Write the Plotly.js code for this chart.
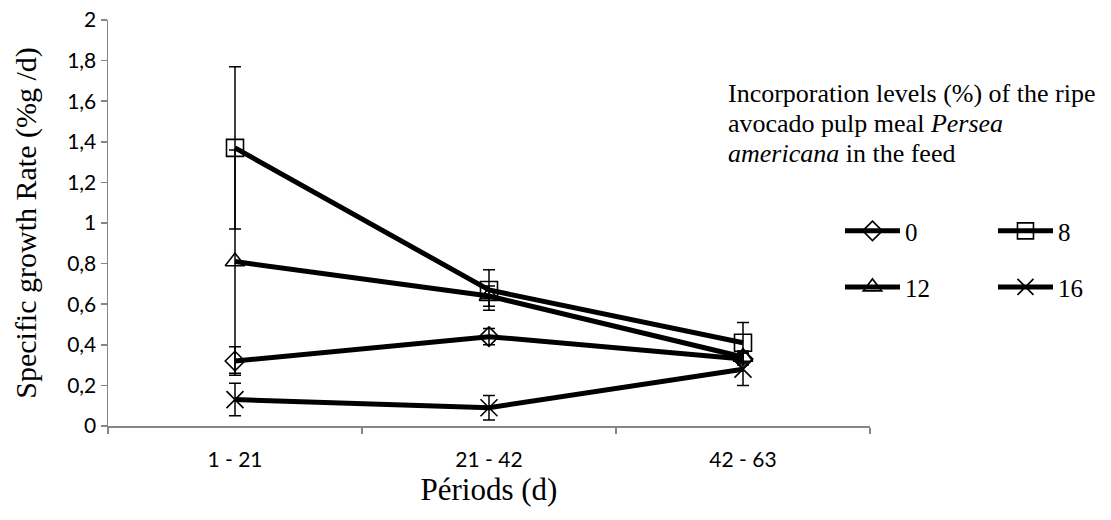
<!DOCTYPE html>
<html>
<head>
<meta charset="utf-8">
<script src="https://cdn.plot.ly/plotly-3.0.1.min.js"></script>
<style>html,body{margin:0;padding:0;background:#fff;}#chart{width:1111px;height:520px;}</style>
</head>
<body>
<div id="chart"></div>
<script>
const periods = ["1 - 21", "21 - 42", "42 - 63"];
const levelNames = ["0", "8", "12", "16"];
const sgr0 = [0.32, 0.44, 0.33];
const err0 = [0.07, 0.04, 0.03];
const sgr8 = [1.37, 0.67, 0.41];
const err8 = [0.40, 0.10, 0.10];
const sgr12 = [0.81, 0.64, 0.34];
const err12 = [0.55, 0.05, 0.03];
const sgr16 = [0.13, 0.09, 0.28];
const err16 = [0.08, 0.06, 0.08];
const yTicks = [0, 0.2, 0.4, 0.6, 0.8, 1, 1.2, 1.4, 1.6, 1.8, 2];
const legendTitleLines = [
  "Incorporation levels (%) of the ripe",
  "avocado pulp meal <i>Persea</i>",
  "<i>americana</i> in the feed"
];

const serif = "Liberation Serif, Times New Roman, serif";
const sans = "Lato, Calibri, sans-serif";

function mk(name, y, err, symbol, size, legend) {
  return {
    type: "scatter", mode: "lines+markers", name: name, x: periods, y: y,
    legend: legend,
    line: {color: "#000", width: 5},
    marker: {symbol: symbol, size: size, color: "#000", line: {color: "#000", width: 1.6}},
    error_y: {type: "data", array: err, visible: true, color: "#000", thickness: 1.5, width: 6}
  };
}

const data = [
  mk(levelNames[0], sgr0, err0, "diamond-open", 15, "legend"),
  mk(levelNames[1], sgr8, err8, "square-open", 17, "legend"),
  mk(levelNames[2], sgr12, err12, "triangle-up-open", 17, "legend2"),
  mk(levelNames[3], sgr16, err16, "x-thin-open", 17, "legend2")
];

const legendBase = {
  orientation: "h", xanchor: "left", yanchor: "middle",
  font: {family: serif, size: 25, color: "#000"},
  bgcolor: "rgba(0,0,0,0)", entrywidth: 83, entrywidthmode: "pixels",
  itemwidth: 55,
  itemclick: false
};

const titleYs = [0.818, 0.744, 0.670];
const annotations = legendTitleLines.map((t, i) => ({
  xref: "paper", yref: "paper", x: 0.811, y: titleYs[i], xanchor: "left", yanchor: "middle",
  align: "left", showarrow: false, text: t,
  font: {family: serif, size: 26, color: "#000"}
}));

const layout = {
  width: 1111, height: 520,
  margin: {l: 108, r: 241, t: 20, b: 94, autoexpand: false},
  paper_bgcolor: "#fff", plot_bgcolor: "#fff",
  separators: ",.",
  showlegend: true,
  legend: Object.assign({}, legendBase, {x: 0.9606, y: 0.480}),
  legend2: Object.assign({}, legendBase, {x: 0.9606, y: 0.342}),
  xaxis: {
    type: "category", range: [-0.5, 2.5], tickson: "boundaries",
    showline: true, linecolor: "#868686", linewidth: 1.5,
    ticks: "outside", ticklen: 6, tickcolor: "#868686", tickwidth: 1.5,
    showgrid: false, zeroline: false,
    tickfont: {family: sans, size: 21, color: "#000"},
    ticklabelstandoff: 14,
    title: {text: "Périods (d)", font: {family: serif, size: 31, color: "#000"}, standoff: 8}
  },
  yaxis: {
    range: [0, 2], tickvals: yTicks,
    showline: true, linecolor: "#868686", linewidth: 1.5,
    ticks: "outside", ticklen: 6, tickcolor: "#868686", tickwidth: 1.5,
    showgrid: false, zeroline: false,
    tickfont: {family: sans, size: 21, color: "#000"},
    title: {text: "Specific growth Rate (%g /d)", font: {family: serif, size: 30, color: "#000"}, standoff: 21}
  },
  annotations: annotations
};

Plotly.newPlot("chart", data, layout, {displayModeBar: false, staticPlot: true});
</script>
</body>
</html>
